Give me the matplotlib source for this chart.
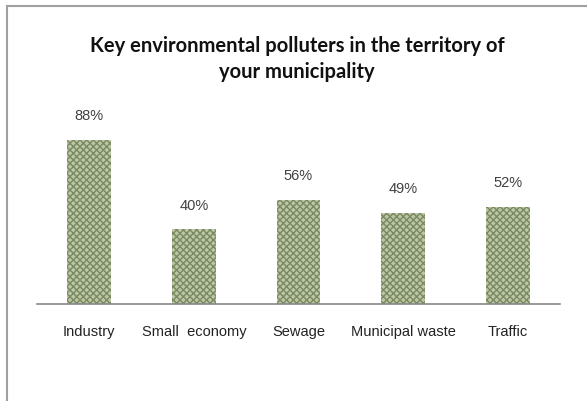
import matplotlib.pyplot as plt
from matplotlib.patches import Rectangle

categories = ['Industry', 'Small  economy', 'Sewage', 'Municipal waste', 'Traffic']
values = [88, 40, 56, 49, 52]
labels = ['88%', '40%', '56%', '49%', '52%']

plt.rcParams['hatch.linewidth'] = 1.0

fig = plt.figure(figsize=(5.87, 4.01), dpi=100)
ax = fig.add_axes([37 / 587, 1 - 304 / 401, 523 / 587, 186.4 / 401])

bars = ax.bar(range(len(values)), values, width=0.42, color='#bcc6a8',
              edgecolor='#7a8a5e', hatch='xxxxx', linewidth=0)
for b, lab in zip(bars, labels):
    ax.annotate(lab, (b.get_x() + b.get_width() / 2, b.get_height()),
                xytext=(0, 12), textcoords='offset points', ha='center', va='bottom',
                fontsize=10.5, color='#404040', family='Liberation Sans')

ax.set_xlim(-0.5, 4.5)
ax.set_ylim(0, 100)
ax.set_yticks([])
ax.set_xticks(range(len(categories)))
ax.set_xticklabels(categories, fontsize=10.5, family='Liberation Sans', color='#222222')
ax.tick_params(axis='x', length=0, pad=15)
for s in ['top', 'right', 'left']:
    ax.spines[s].set_visible(False)
ax.spines['bottom'].set_color('#888888')
ax.spines['bottom'].set_linewidth(1.2)

fig.text(0.506, 1 - 59 / 401, 'Key environmental polluters in the territory of\nyour municipality',
         ha='center', va='center', fontsize=14.5, fontweight='bold', family='Lato',
         linespacing=1.38, color='#111111')

# frame on the left and top
fig.patches.append(Rectangle((7 / 587, -0.1), 1.2, 1 - 6 / 401 + 0.1, transform=fig.transFigure,
                             fill=False, edgecolor='#a0a0a0', linewidth=1.5))

fig.savefig('out.png', dpi=100)
